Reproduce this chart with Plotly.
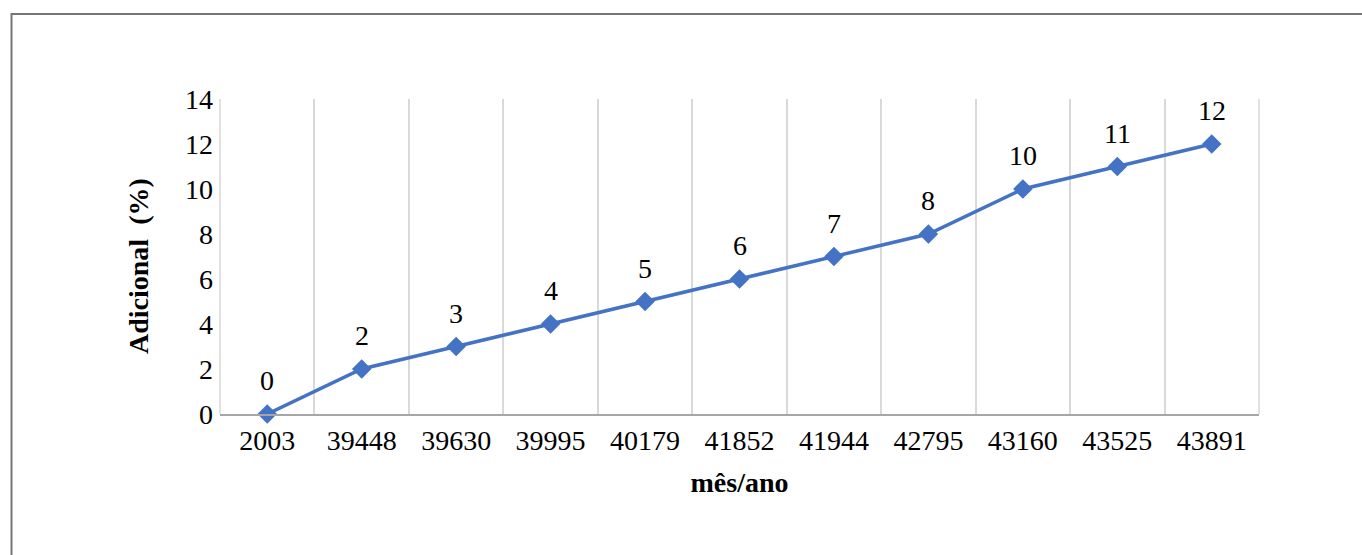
import plotly.graph_objects as go

categories = ["2003", "39448", "39630", "39995", "40179", "41852", "41944", "42795", "43160", "43525", "43891"]
values = [0, 2, 3, 4, 5, 6, 7, 8, 10, 11, 12]
labels = ["0", "2", "3", "4", "5", "6", "7", "8", "10", "11", "12"]

W, H = 1362, 555
L, R, T, B = 220, 1259, 99, 414
FS = 28

fig = go.Figure()
fig.add_trace(go.Scatter(
    x=categories, y=values, mode="lines+markers",
    line=dict(color="#4472C4", width=3.5),
    marker=dict(symbol="diamond", size=15, color="#4472C4"),
    cliponaxis=False, showlegend=False,
))

for i, (v, t) in enumerate(zip(values, labels)):
    fig.add_annotation(x=i, y=v, xref="x", yref="y", text=t, showarrow=False,
                       yanchor="bottom", yshift=16,
                       font=dict(family="Liberation Serif", size=FS, color="#000000"))

def px2x(p):
    return (p - L) / (R - L)

def py2y(p):
    return (B - p) / (B - T)

fig.add_annotation(xref="paper", yref="paper", x=px2x(138), y=py2y(266),
                   text="<b>Adicional  (%)</b>", textangle=-90, showarrow=False,
                   xanchor="center", yanchor="middle",
                   font=dict(family="Liberation Serif", size=FS, color="#000000"))

fig.add_shape(type="rect", xref="paper", yref="paper",
              x0=px2x(11.5), x1=px2x(1380), y0=py2y(14), y1=py2y(580),
              line=dict(color="#767676", width=2), fillcolor="rgba(0,0,0,0)", layer="below")
for xe in (0, 1):
    fig.add_shape(type="line", xref="paper", yref="paper", x0=xe, x1=xe, y0=0, y1=1,
                  line=dict(color="#D9D9D9", width=1.5), layer="below")

fig.update_layout(
    width=W, height=H,
    margin=dict(l=L, r=W - R, t=T, b=H - B),
    paper_bgcolor="white", plot_bgcolor="white",
    font=dict(family="Liberation Serif", color="#000000", size=FS),
    xaxis=dict(
        type="category", tickson="boundaries", range=[-0.5, 10.5],
        showgrid=True, gridcolor="#D9D9D9", gridwidth=1.5,
        showline=True, linecolor="#A6A6A6", linewidth=2,
        ticks="", tickfont=dict(size=FS),
        title=dict(text="<b>mês/ano</b>", font=dict(size=FS), standoff=18),
    ),
    yaxis=dict(
        range=[0, 14], dtick=2, showgrid=False, zeroline=False,
        showline=False, ticks="", tickfont=dict(size=FS),
        ticklabelstandoff=6,
    ),
)

fig.write_html("out.html")
